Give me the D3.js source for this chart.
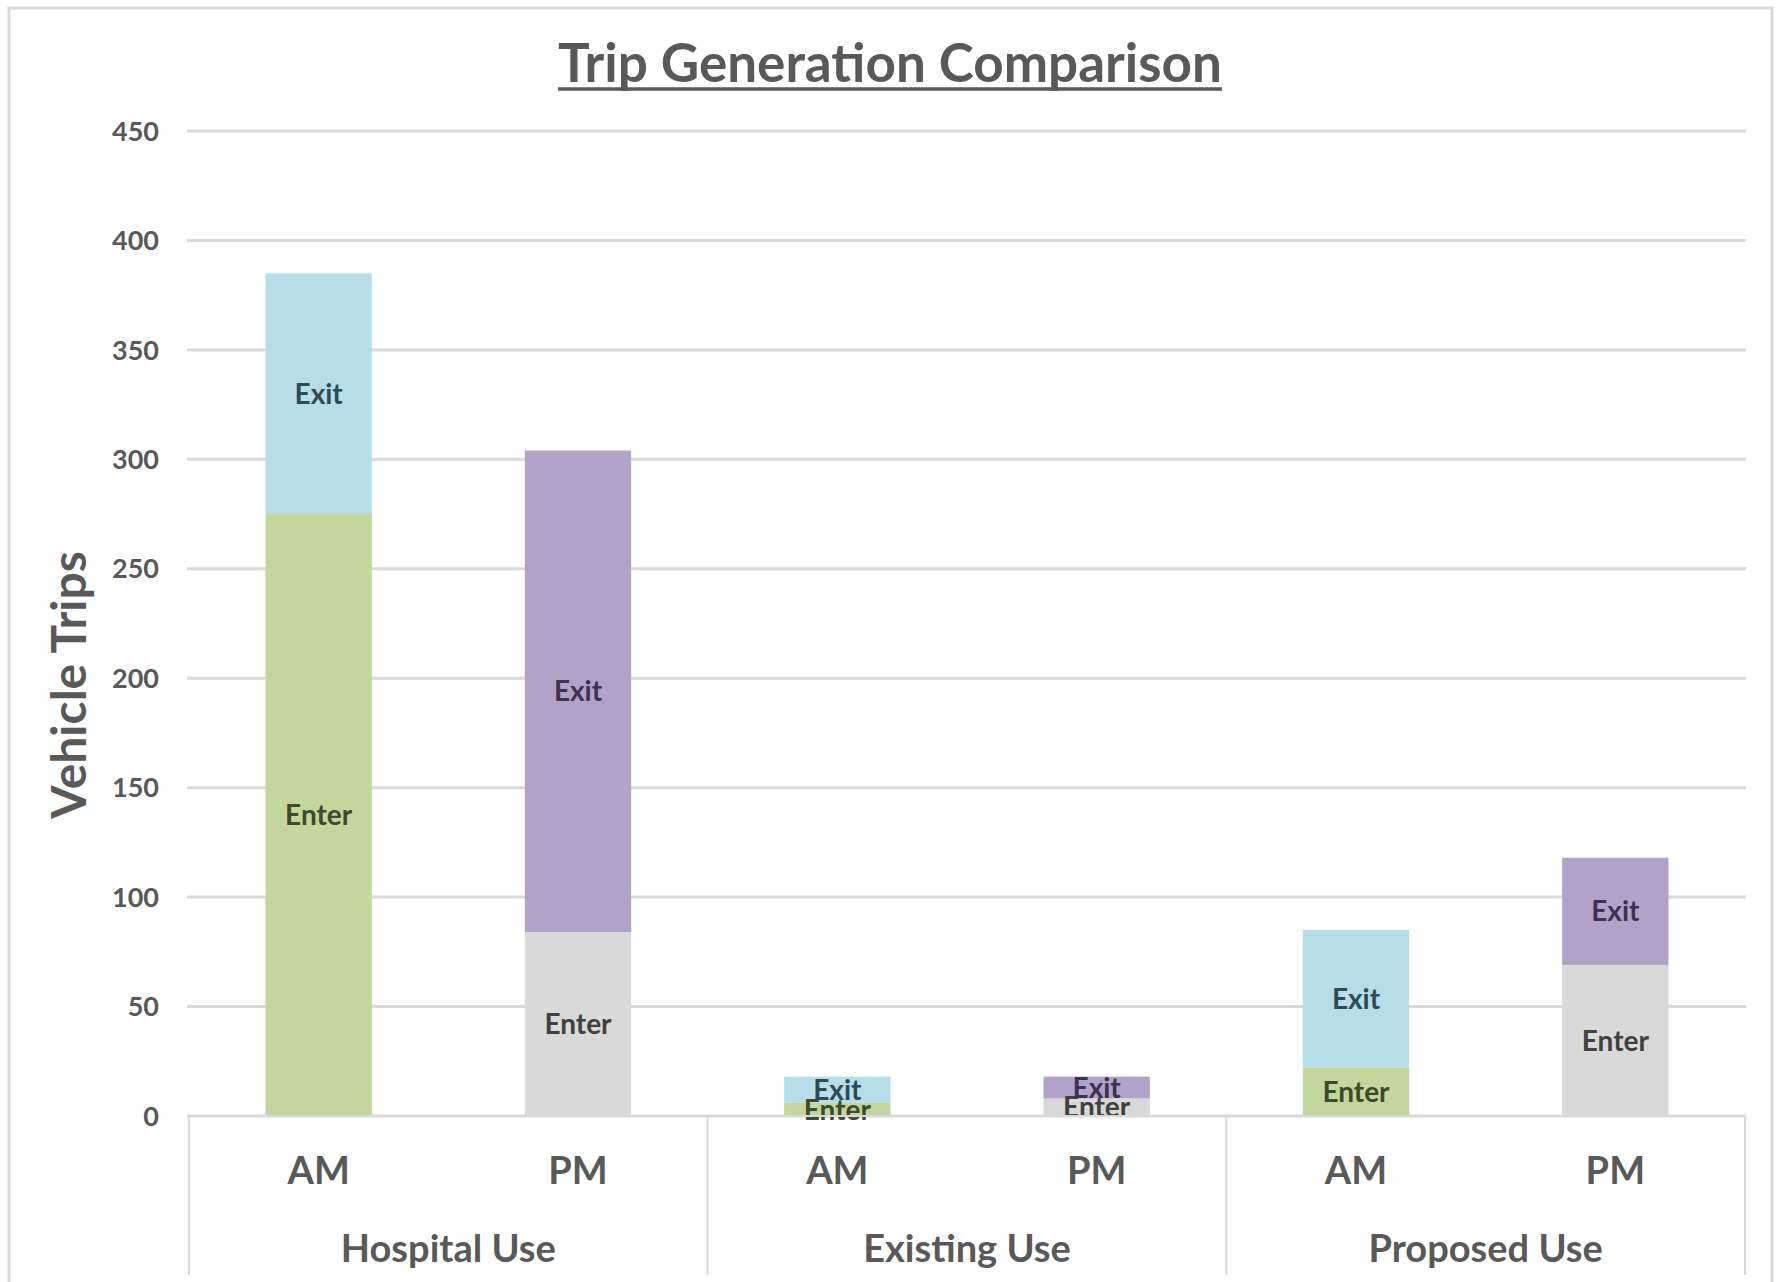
<!DOCTYPE html>
<html>
<head>
<meta charset="utf-8">
<script src="https://cdn.jsdelivr.net/npm/d3@7"></script>
<style>
    body { margin: 0; background: #fff; }
    text { font-family: Lato, "Open Sans", sans-serif; font-weight: bold; }
</style>
</head>
<body>
<div id="chart"></div>
<script>
const groups = ["Hospital Use", "Existing Use", "Proposed Use"];
const periods = ["AM", "PM"];
const enterValues = [275, 84, 6, 8, 22, 69];
const exitValues = [110, 220, 12, 10, 63, 49];
const yTicks = [0, 50, 100, 150, 200, 250, 300, 350, 400, 450];

const fills = {
    AM: { Enter: "#c3d69b", Exit: "#b7dde8" },
    PM: { Enter: "#d9d9d9", Exit: "#b3a2c7" }
};
const labelColors = {
    AM: { Enter: "#3d4a2c", Exit: "#2e4a55" },
    PM: { Enter: "#404040", Exit: "#3f3151" }
};

let width = 1776;
let height = 1282;

let bars = [];
groups.forEach((g, gi) => {
    periods.forEach((p, pi) => {
        let i = gi * periods.length + pi;
        bars.push({ key: i, group: g, period: p, enter: enterValues[i], exit: exitValues[i] });
    });
});

let svg = d3.select("#chart")
    .append("svg")
    .attr("width", width)
    .attr("height", height);

// chart border
svg.append("rect")
    .attr("x", 9)
    .attr("y", 8)
    .attr("width", 1763)
    .attr("height", 1290)
    .attr("fill", "none")
    .attr("stroke", "#d9d9d9")
    .attr("stroke-width", 3);

let xScale = d3.scaleBand()
    .domain(bars.map(d => d.key))
    .range([189, 1745])
    .paddingInner(0.59)
    .paddingOuter(0.295);

let yScale = d3.scaleLinear()
    .domain([0, 450])
    .range([1116, 131]);

// gridlines
svg.append("g")
    .selectAll("line")
    .data(yTicks)
    .join("line")
    .attr("x1", 187)
    .attr("x2", 1746)
    .attr("y1", d => yScale(d))
    .attr("y2", d => yScale(d))
    .attr("stroke", "#d9d9d9")
    .attr("stroke-width", 3);

// y tick labels
svg.append("g")
    .selectAll("text")
    .data(yTicks)
    .join("text")
    .attr("x", 159)
    .attr("y", d => yScale(d))
    .attr("dy", "0.36em")
    .attr("text-anchor", "end")
    .attr("font-size", "27px")
    .attr("fill", "#595959")
    .text(d => d);

// y axis title
svg.append("text")
    .attr("transform", `translate(86, 685) rotate(-90)`)
    .attr("text-anchor", "middle")
    .attr("font-size", "48px")
    .attr("fill", "#595959")
    .text("Vehicle Trips");

// title
let title = svg.append("text")
    .attr("x", 890)
    .attr("y", 82)
    .attr("text-anchor", "middle")
    .attr("font-size", "53px")
    .attr("fill", "#595959")
    .text("Trip Generation Comparison");
let tb = title.node().getBBox();
svg.append("line")
    .attr("x1", tb.x)
    .attr("x2", tb.x + tb.width)
    .attr("y1", 89)
    .attr("y2", 89)
    .attr("stroke", "#595959")
    .attr("stroke-width", 3.5);

// stacked segments
let segments = [];
bars.forEach(d => {
    segments.push({ bar: d, series: "Enter", y0: 0, y1: d.enter });
    segments.push({ bar: d, series: "Exit", y0: d.enter, y1: d.enter + d.exit });
});

svg.append("g")
    .selectAll("rect")
    .data(segments)
    .join("rect")
    .attr("x", d => xScale(d.bar.key))
    .attr("width", xScale.bandwidth())
    .attr("y", d => yScale(d.y1))
    .attr("height", d => yScale(d.y0) - yScale(d.y1))
    .attr("fill", d => fills[d.bar.period][d.series]);

svg.append("g")
    .selectAll("text")
    .data(segments)
    .join("text")
    .attr("x", d => xScale(d.bar.key) + xScale.bandwidth() / 2)
    .attr("y", d => yScale((d.y0 + d.y1) / 2))
    .attr("dy", "0.36em")
    .attr("text-anchor", "middle")
    .attr("font-size", "28px")
    .attr("fill", d => labelColors[d.bar.period][d.series])
    .text(d => d.series);

// category axis
svg.append("line")
    .attr("x1", 189)
    .attr("x2", 1745)
    .attr("y1", yScale(0))
    .attr("y2", yScale(0))
    .attr("stroke", "#d9d9d9")
    .attr("stroke-width", 2);

let step = xScale.step();
let groupEdges = d3.range(groups.length + 1).map(i => 189 + i * step * periods.length);

svg.append("g")
    .selectAll("line")
    .data(groupEdges)
    .join("line")
    .attr("x1", d => d)
    .attr("x2", d => d)
    .attr("y1", yScale(0))
    .attr("y2", 1275)
    .attr("stroke", "#d9d9d9")
    .attr("stroke-width", 2);

svg.append("g")
    .selectAll("text")
    .data(bars)
    .join("text")
    .attr("x", d => xScale(d.key) + xScale.bandwidth() / 2)
    .attr("y", 1170)
    .attr("dy", "0.36em")
    .attr("text-anchor", "middle")
    .attr("font-size", "38px")
    .attr("fill", "#595959")
    .text(d => d.period);

svg.append("g")
    .selectAll("text")
    .data(groups)
    .join("text")
    .attr("x", (d, i) => (groupEdges[i] + groupEdges[i + 1]) / 2)
    .attr("y", 1248)
    .attr("dy", "0.36em")
    .attr("text-anchor", "middle")
    .attr("font-size", "38px")
    .attr("fill", "#595959")
    .text(d => d);
</script>
</body>
</html>
